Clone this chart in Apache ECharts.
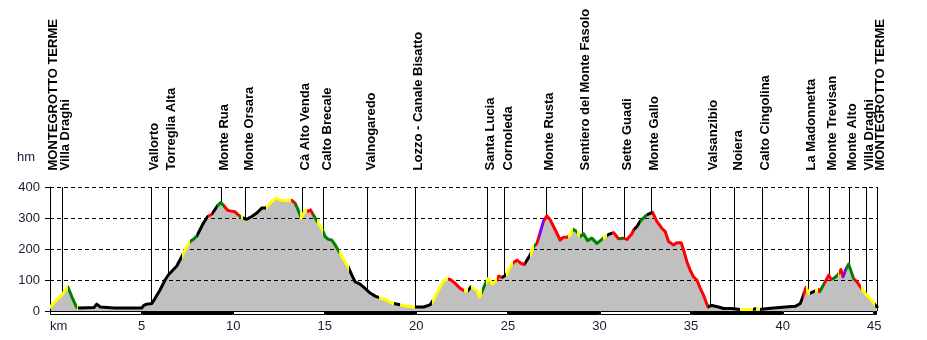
<!DOCTYPE html>
<html><head><meta charset="utf-8">
<script src="https://cdn.jsdelivr.net/npm/echarts@6/dist/echarts.min.js"></script>
<style>html,body{margin:0;padding:0;background:#fff;}#c{width:927px;height:340px;}</style>
</head><body><div id="c"></div>
<script>
// ---- DATA ----
const totalKm = 45.15;
const profileKm = [0,0.35,0.64,0.97,1.2,1.46,1.6,2.4,2.55,2.75,3.5,5.0,5.12,5.28,5.55,5.73,6.0,6.28,6.46,6.74,6.92,7.19,7.4,7.65,7.85,8.01,8.19,8.37,8.61,8.83,9.14,9.32,9.5,9.7,9.83,10.1,10.28,10.45,10.74,11.01,11.29,11.56,11.8,12.02,12.34,12.65,12.93,13.2,13.38,13.62,13.71,13.93,14.1,14.22,14.38,14.65,14.87,15.02,15.2,15.38,15.57,15.78,16.11,16.29,16.48,16.66,16.93,17.2,17.48,17.75,17.97,18.3,18.75,19.12,19.5,19.93,20.4,20.75,21.03,21.3,21.48,21.67,21.85,22.12,22.39,22.57,22.79,22.98,23.08,23.3,23.45,23.58,23.81,23.94,24.17,24.39,24.5,24.67,24.91,25.12,25.3,25.49,25.71,25.89,26.22,26.4,26.58,26.72,26.94,27.13,27.31,27.58,27.85,28.03,28.25,28.4,28.55,28.77,28.95,29.13,29.35,29.58,29.86,30.13,30.3,30.5,30.77,31.04,31.3,31.5,31.77,31.86,32.04,32.22,32.4,32.58,32.9,33.13,33.4,33.59,33.77,34.04,34.22,34.46,34.59,34.77,34.95,35.13,35.32,35.5,35.68,35.92,36.14,36.5,36.77,37.2,37.68,38.38,38.56,38.74,39.2,40.14,40.69,40.96,41.1,41.27,41.45,41.6,41.78,41.96,42.02,42.27,42.42,42.51,42.64,42.78,43.0,43.1,43.18,43.29,43.47,43.6,43.78,43.87,44.06,44.24,44.51,44.78,45.06,45.15];
const profileElev = [12,35,51,78,45,11,10,11,22,13,10,10,18,22,24,40,67,100,116,134,145,175,200,224,232,242,262,283,305,312,339,350,339,325,323,320,310,302,296,305,316,332,332,348,364,357,356,357,348,316,300,324,322,326,310,283,262,240,231,229,213,191,159,141,116,94,87,73,58,48,43,37,24,20,15,13,13,20,45,78,97,103,102,89,73,67,63,78,83,67,45,62,94,105,87,100,113,108,116,143,156,164,154,150,181,207,218,245,289,307,294,262,229,238,238,245,264,256,240,249,227,235,218,231,240,247,253,233,235,231,249,262,272,289,300,310,318,289,267,256,224,213,220,220,197,159,132,110,100,73,51,13,18,13,8,8,5,5,8,5,8,13,15,24,45,76,56,60,65,69,62,89,105,116,102,105,116,125,134,110,137,151,121,105,94,78,56,40,18,13];

// slope class of each stretch of the track (start km, class)
const segmentStartKm = [0,0.97,1.46,1.55,7.19,7.65,8.01,8.61,8.83,9.14,9.5,10.3,10.42,10.55,11.8,13.15,13.38,13.65,14.05,14.38,14.57,14.9,15.8,16.35,17.97,18.8,19.12,19.93,20.85,21.72,22.6,22.8,22.98,23.58,23.81,24.42,24.7,24.91,25.3,25.92,26.2,26.4,26.56,26.68,26.95,28.3,28.55,28.77,28.95,30.2,30.4,30.7,31.04,31.3,31.86,32.22,32.58,32.86,35.92,37.68,38.38,38.56,38.74,41.1,41.27,41.47,41.78,41.92,42.02,42.27,42.7,43.0,43.1,43.29,43.47,43.87,44.3,45.06];
const segmentClass   = ['Y','G','Y','K','Y','G','K','R','K','G','R','G','Y','K','Y','R','G','Y','R','G','Y','G','Y','K','Y','K','Y','K','Y','R','Y','K','Y','G','Y','R','K','Y','R','K','Y','G','R','P','R','Y','G','Y','G','Y','K','R','G','R','K','G','K','R','K','Y','K','Y','K','R','Y','K','Y','R','G','R','G','Y','R','P','G','R','Y','K'];

const waypointKm = [0,0.67,5.52,6.46,9.34,10.67,13.75,14.93,17.33,19.95,23.85,24.81,27.07,29.02,31.36,32.82,36.01,37.37,38.87,41.39,42.51,43.64,44.55,45.15];
const waypointNames = ['MONTEGROTTO TERME','Villa Draghi','Vallorto','Torreglia Alta','Monte Rua','Monte Orsara','Cà Alto Venda','Calto Brecale','Valnogaredo','Lozzo - Canale Bisatto','Santa Lucia','Cornoleda','Monte Rusta','Sentiero del Monte Fasolo','Sette Guadi','Monte Gallo','Valsanzibio','Noiera','Calto Cingolina','La Madonnetta','Monte Trevisan','Monte Alto','Villa Draghi','MONTEGROTTO TERME'];

const yTicks = [0,100,200,300,400];
const xTickValues = [0,5,10,15,20,25,30,35,40,45];
const xTickLabels = ['km','5','10','15','20','25','30','35','40','45'];

// ---- STYLE ----
const classColor = {Y:'#ffff00', G:'#008000', R:'#ff0000', P:'#8000ff', K:'#000000'};
const FONT = '"Liberation Sans", Arial, Helvetica, sans-serif';

const profile = profileKm.map((k,i)=>[k, profileElev[i]]);
const pieces = segmentStartKm.map((s,i)=>{
  const e = i < segmentStartKm.length-1 ? segmentStartKm[i+1] : totalKm + 1;
  return {gte: s, lt: e, color: classColor[segmentClass[i]]};
});
const bandEdges = xTickValues.concat([totalKm]);
const bands = [];
for (let i=0;i<bandEdges.length-1;i++) bands.push([bandEdges[i], bandEdges[i+1], i%2]);
const yMax = yTicks[yTicks.length-1];

const chart = echarts.init(document.getElementById('c'), null, {renderer:'canvas'});
chart.setOption({
  animation:false,
  backgroundColor:'#fff',
  grid:[
    {left:50, right:50, top:187, height:124},
    {left:50, right:50, top:311, height:4}
  ],
  xAxis:[
    {gridIndex:0, type:'value', min:0, max:totalKm, show:false},
    {gridIndex:1, type:'value', min:0, max:totalKm, interval:5,
     axisLine:{show:false}, axisTick:{show:false}, splitLine:{show:false},
     axisLabel:{margin:5, color:'#1a1a33', fontSize:13, fontFamily:FONT, alignMinLabel:'left',
       formatter:v=>{const i=xTickValues.indexOf(v); return i>=0?xTickLabels[i]:'';}}}
  ],
  yAxis:[
    {gridIndex:0, type:'value', min:yTicks[0], max:yMax, interval:100, z:3,
     name:'hm', nameLocation:'end', nameGap:30,
     nameTextStyle:{color:'#1a1a33', fontSize:13, fontFamily:FONT, align:'right', verticalAlign:'middle', padding:[0,15,0,0]},
     axisLine:{show:true, lineStyle:{color:'#000', width:1}},
     axisTick:{show:true, length:5, lineStyle:{color:'#000'}},
     axisLabel:{margin:10, color:'#1a1a33', fontSize:13, fontFamily:FONT},
     splitLine:{show:true, lineStyle:{color:'#000', type:[4,3], width:1}}},
    {gridIndex:1, type:'value', min:0, max:1, show:false}
  ],
  visualMap:{show:false, type:'piecewise', dimension:0, seriesIndex:2, pieces:pieces},
  series:[
    {type:'custom', xAxisIndex:0, yAxisIndex:0, z:1, silent:true,
     data: waypointKm.map(k=>[k,0]),
     encode:{x:0,y:1},
     renderItem:function(params, api){
       const km = api.value(0);
       const top = api.coord([km, yMax]);
       const bot = api.coord([km, 0]);
       const x = Math.round(top[0]) + 0.5;
       return {type:'group', children:[
         {type:'line', shape:{x1:x, y1:top[1], x2:x, y2:bot[1]}, style:{stroke:'#000', lineWidth:1}},
         {type:'text', x: top[0]+3.5, y: top[1]-16.5, rotation: Math.PI/2,
          style:{text: waypointNames[params.dataIndex], fontFamily:FONT, fontSize:13, fontWeight:'bold',
                 fill:'#000', align:'left', verticalAlign:'middle'}}
       ]};
     }},
    {type:'line', xAxisIndex:0, yAxisIndex:0, z:2, silent:true, data:profile, showSymbol:false,
     lineStyle:{width:0}, areaStyle:{color:'#c0c0c0', opacity:1}},
    {type:'line', xAxisIndex:0, yAxisIndex:0, z:5, silent:true, data:profile, showSymbol:false,
     lineStyle:{width:3, join:'round', cap:'round'}},
    {type:'custom', xAxisIndex:1, yAxisIndex:1, z:4, silent:true,
     data: bands, encode:{x:[0,1]},
     renderItem:function(params, api){
       const p0 = api.coord([api.value(0), 1]);
       const p1 = api.coord([api.value(1), 0]);
       const x0 = Math.round(p0[0]) + 0.5, x1 = Math.round(p1[0]) - 0.5;
       const y0 = Math.round(p0[1]) + 0.5, y1 = Math.round(p1[1]) - 0.5;
       return {type:'rect', shape:{x:x0, y:y0, width:x1-x0, height:y1-y0},
         style:{fill: api.value(2) ? '#000' : '#fff', stroke:'#000', lineWidth:1}};
     }}
  ]
});
</script></body></html>
